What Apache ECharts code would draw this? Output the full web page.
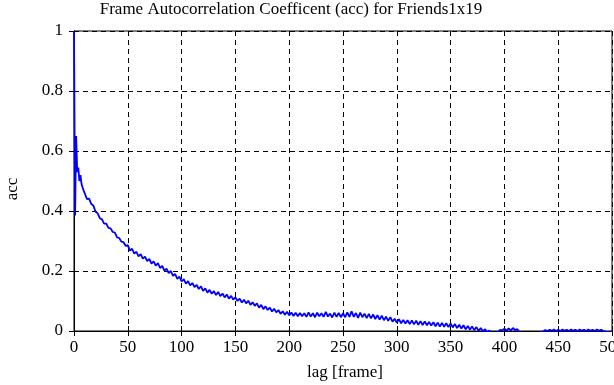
<!DOCTYPE html>
<html>
<head>
<meta charset="utf-8">
<script src="https://cdn.jsdelivr.net/npm/echarts@6/dist/echarts.min.js"></script>
<style>
  html, body { margin: 0; padding: 0; background: #fff; }
  #chart { width: 614px; height: 385px; }
</style>
</head>
<body>
<div id="chart"></div>
<script>
// acc for lags 0..9, one per frame
var accHead = [1.0, 0.385, 0.65, 0.53, 0.545, 0.50, 0.52, 0.49, 0.478, 0.468];
// acc for lags 10..500, every second frame
var accTail = [
  0.462, 0.440, 0.441, 0.424, 0.418, 0.398, 0.392, 0.376, 0.372, 0.358,
  0.358, 0.344, 0.342, 0.330, 0.328, 0.312, 0.310, 0.298, 0.296, 0.284,
  0.286, 0.268, 0.274, 0.258, 0.264, 0.249, 0.256, 0.241, 0.248, 0.233,
  0.240, 0.225, 0.232, 0.218, 0.226, 0.210, 0.217, 0.201, 0.208, 0.193,
  0.200, 0.184, 0.190, 0.174, 0.181, 0.165, 0.173, 0.158, 0.166, 0.152,
  0.160, 0.146, 0.154, 0.140, 0.149, 0.134, 0.142, 0.128, 0.137, 0.124,
  0.133, 0.120, 0.130, 0.116, 0.125, 0.112, 0.122, 0.108, 0.117, 0.105,
  0.112, 0.100, 0.108, 0.095, 0.104, 0.092, 0.101, 0.087, 0.096, 0.084,
  0.092, 0.078, 0.087, 0.073, 0.082, 0.070, 0.078, 0.065, 0.074, 0.062,
  0.070, 0.057, 0.066, 0.054, 0.064, 0.052, 0.062, 0.050, 0.061, 0.049,
  0.060, 0.049, 0.059, 0.047, 0.062, 0.048, 0.059, 0.046, 0.061, 0.049,
  0.059, 0.047, 0.064, 0.048, 0.058, 0.045, 0.061, 0.047, 0.060, 0.046,
  0.059, 0.046, 0.062, 0.047, 0.066, 0.047, 0.060, 0.044, 0.061, 0.046,
  0.058, 0.043, 0.057, 0.042, 0.055, 0.040, 0.053, 0.038, 0.051, 0.036,
  0.048, 0.034, 0.046, 0.031, 0.041, 0.028, 0.039, 0.026, 0.037, 0.025,
  0.036, 0.023, 0.035, 0.022, 0.034, 0.021, 0.033, 0.020, 0.032, 0.019,
  0.030, 0.018, 0.029, 0.016, 0.028, 0.015, 0.027, 0.014, 0.026, 0.013,
  0.025, 0.012, 0.023, 0.010, 0.021, 0.008, 0.019, 0.006, 0.017, 0.005,
  0.015, 0.003, 0.013, 0.001, 0.010, -0.001, 0.006, -0.004, 0.002, -0.008,
  -0.010, -0.007, -0.004, 0.004, 0.002, 0.008, 0.001, 0.009, 0.002, 0.010,
  0.003, 0.006, -0.003, -0.007, -0.009, -0.012, -0.010, -0.012, -0.009, -0.011,
  -0.010, -0.007, -0.004, -0.002, 0.003, 0.000, 0.004, 0.001, 0.005, 0.000,
  0.004, 0.000, 0.005, 0.001, 0.004, 0.000, 0.005, 0.001, 0.004, 0.000,
  0.005, 0.001, 0.004, 0.000, 0.005, 0.001, 0.004, 0.000, 0.005, 0.001,
  0.004, 0.000, -0.002, -0.003, -0.004, -0.003
];
var titleText = 'Frame Autocorrelation Coefficent (acc) for Friends1x19';
var xName = 'lag [frame]';
var yName = 'acc';

var points = [];
accHead.forEach(function (v, i) { points.push([i, v]); });
accTail.forEach(function (v, i) { points.push([10 + i * 2, v]); });

var font = 'Liberation Serif';
var dashed = { color: '#000', width: 1, type: [5, 4] };

var chart = echarts.init(document.getElementById('chart'));
chart.setOption({
  animation: false,
  grid: { left: 74, right: 2, top: 31, bottom: 54, outerBoundsMode: 'none', show: true, borderColor: '#000', borderWidth: 1 },
  graphic: [
    { type: 'text', x: 291, y: 10, style: { text: titleText, font: '17px "' + font + '"', fill: '#000', textAlign: 'center', textVerticalAlign: 'middle' } },
    { type: 'text', x: 345, y: 373, style: { text: xName, font: '17px "' + font + '"', fill: '#000', textAlign: 'center', textVerticalAlign: 'middle' } },
    { type: 'text', x: 13, y: 189, rotation: Math.PI / 2, style: { text: yName, font: '17px "' + font + '"', fill: '#000', textAlign: 'center', textVerticalAlign: 'middle' } }
  ],
  xAxis: [
    {
      type: 'value', min: 0, max: 500, interval: 50,
      axisLine: { show: true, lineStyle: { color: '#000', width: 1 } },
      axisTick: { show: true, inside: true, length: 5, lineStyle: { color: '#000' } },
      axisLabel: { color: '#000', fontFamily: font, fontSize: 17, margin: 8 },
      splitLine: { show: true, lineStyle: dashed }
    },
    {
      type: 'value', position: 'top', min: 0, max: 500, interval: 50,
      axisLine: { show: true, lineStyle: { color: '#000', width: 1 } },
      axisTick: { show: true, inside: true, length: 5, lineStyle: { color: '#000' } },
      axisLabel: { show: false },
      splitLine: { show: false }
    }
  ],
  yAxis: [
    {
      type: 'value', min: 0, max: 1, interval: 0.2,
      axisLine: { show: true, lineStyle: { color: '#000', width: 1 } },
      axisTick: { show: true, inside: true, length: 5, lineStyle: { color: '#000' } },
      axisLabel: { color: '#000', fontFamily: font, fontSize: 17, margin: 11 },
      splitLine: { show: true, lineStyle: dashed }
    },
    {
      type: 'value', position: 'right', min: 0, max: 1, interval: 0.2,
      axisLine: { show: true, lineStyle: { color: '#000', width: 1 } },
      axisTick: { show: true, inside: true, length: 5, lineStyle: { color: '#000' } },
      axisLabel: { show: false },
      splitLine: { show: false }
    }
  ],
  series: [{
    type: 'line',
    data: points,
    showSymbol: false,
    clip: true,
    lineStyle: { color: '#0000ff', width: 1.8 }
  }]
});
</script>
</body>
</html>
